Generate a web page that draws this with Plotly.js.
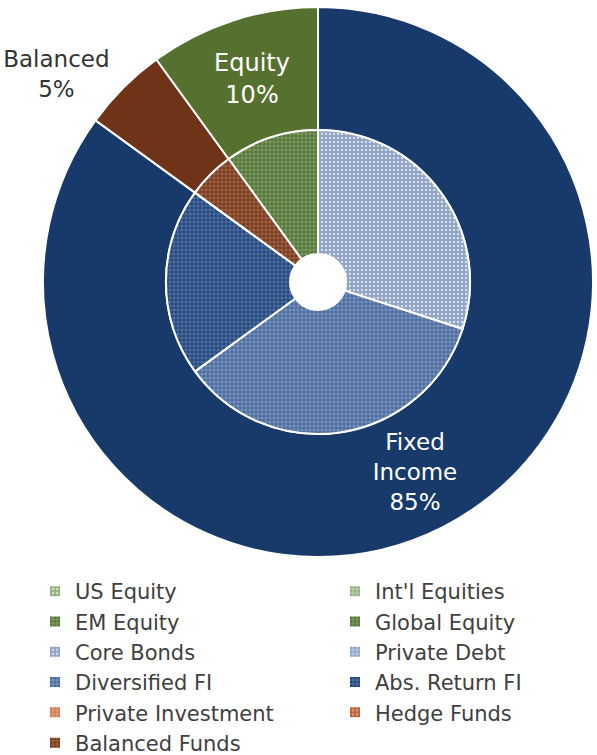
<!DOCTYPE html>
<html>
<head>
<meta charset="utf-8">
<script src="https://cdn.plot.ly/plotly-3.0.1.min.js"></script>
<style>html,body{margin:0;padding:0;background:#fff;}#chart{width:597px;height:755px;}</style>
</head>
<body>
<div id="chart"></div>
<script>
// Outer ring: asset class totals
const outerLabels = ['Fixed<br>Income', 'Balanced', 'Equity'];
const outerValues = [85, 5, 10];
const outerColors = ['#183a6b', '#6f3418', '#56712f'];

// Inner pie: sub-categories (legend order)
const innerLabels = ['US Equity', "Int'l Equities", 'EM Equity', 'Global Equity',
  'Core Bonds', 'Private Debt', 'Diversified FI', 'Abs. Return FI',
  'Private Investment', 'Hedge Funds', 'Balanced Funds'];
const innerValues = [0, 0, 0, 10, 30, 0, 35, 20, 0, 0, 5];
const innerBg = ['#93b07e', '#93b07e', '#56763a', '#55743a',
  '#8ea2c3', '#8ea4c6', '#4a6a9e', '#22457a',
  '#cc7a52', '#b8643a', '#763a1c'];
const innerFg = ['#d4e2c8', '#d4e2c8', '#93b077', '#93b077',
  '#d6dfec', '#d6e0ee', '#93abd0', '#6a8bbb',
  '#f0b898', '#e0a080', '#b67a5c'];
const innerShapes = ['.', '+', '+', '+', '.', '+', '+', '+', '+', '.', '+'];

const FONT = 'DejaVu Sans, Verdana, sans-serif';
const W = 597, H = 755;

const outer = {
  type: 'pie',
  labels: outerLabels,
  values: outerValues,
  sort: false,
  direction: 'clockwise',
  rotation: 0,
  hole: 0.553,
  domain: {x: [43/W, 593/W], y: [(H-557)/H, (H-7)/H]},
  marker: {colors: outerColors, line: {color: '#ffffff', width: 2}},
  texttemplate: '%{label}<br>%{percent:.0%}',
  textposition: ['inside', 'outside', 'inside'],
  insidetextorientation: 'horizontal',
  insidetextfont: {family: FONT, size: [23, 23, 24], color: '#ffffff'},
  outsidetextfont: {family: FONT, size: 23, color: '#333333'},
  showlegend: false,
  hoverinfo: 'none'
};

const inner = {
  type: 'pie',
  labels: innerLabels,
  values: innerValues,
  sort: false,
  direction: 'clockwise',
  rotation: -36,
  hole: 0.184,
  domain: {x: [166/W, 470/W], y: [(H-434)/H, (H-130)/H]},
  marker: {
    colors: innerBg,
    line: {color: '#ffffff', width: 2},
    pattern: {shape: innerShapes, bgcolor: innerBg, fgcolor: innerFg, size: 4, solidity: 0.3, fillmode: 'replace'}
  },
  textinfo: 'none',
  hoverinfo: 'none'
};

const layout = {
  width: W,
  height: H,
  margin: {l: 0, r: 0, t: 0, b: 0, autoexpand: false},
  paper_bgcolor: '#ffffff',
  plot_bgcolor: '#ffffff',
  font: {family: FONT, color: '#404040'},
  showlegend: true,
  legend: {
    orientation: 'h',
    x: 35/W, xanchor: 'left',
    y: (H-571)/H, yanchor: 'top',
    entrywidth: 255, entrywidthmode: 'pixels',
    font: {family: FONT, size: 21, color: '#404040'},
    traceorder: 'normal',
    itemclick: false
  }
};

Plotly.newPlot('chart', [outer, inner], layout, {staticPlot: true});
</script>
</body>
</html>
